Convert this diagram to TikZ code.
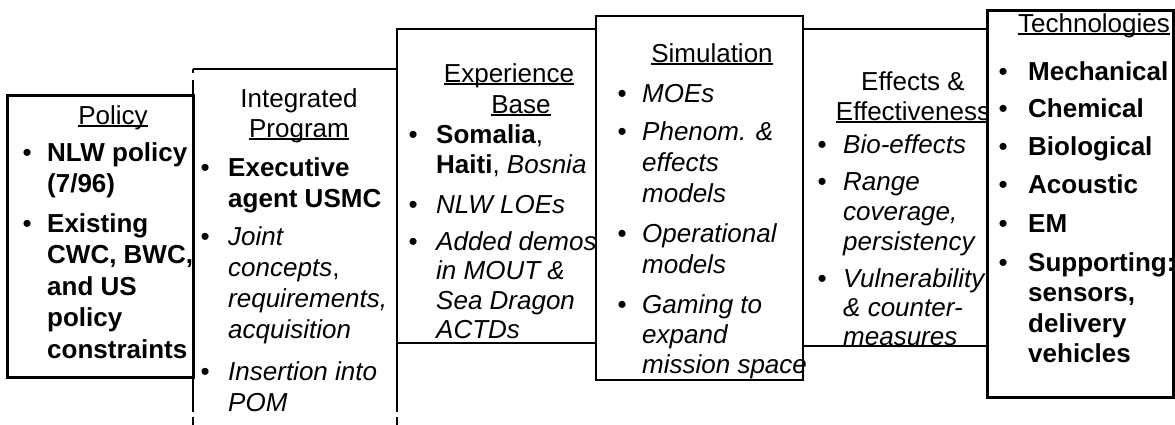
\documentclass[tikz,border=0pt]{standalone}
\usepackage{fontspec}
\setmainfont{Liberation Sans}
\newcommand{\bl}[1]{\makebox[#1pt][l]{\makebox[0pt]{\upshape\mdseries\textbullet}}}
\newcommand{\hul}[1]{\setbox0\hbox{#1}\rlap{\rule[-2.5pt]{\wd0}{1.3pt}}\box0}
\begin{document}
\begin{tikzpicture}[x=1pt,y=-1pt,
  frame/.style={draw=black, fill=white, inner sep=0pt, outer sep=0pt, anchor=north west},
  heavy/.style={frame, line width=3pt},
  light/.style={frame, line width=1.5pt},
  medium/.style={frame, line width=2pt},
  head/.style={inner sep=0pt, anchor=base, font=\fontsize{26}{30}\selectfont},
  itemtxt/.style={inner sep=0pt, anchor=base west, font=\fontsize{26}{#1}\selectfont},
  ]
\fill[white] (0,0) rectangle (1175,424);
\useasboundingbox (0,0) rectangle (1175,424);

% Integrated Program
\node[fill=white, inner sep=0pt, outer sep=0pt, anchor=north west, minimum width=204pt, minimum height=356pt] (integ) at (193,69) {};
\draw[line width=1.5pt] (integ.north west) -- (integ.north east);
\draw[line width=1.5pt, dash pattern=on 4pt off 7pt on 332pt off 5pt on 30pt] (integ.north west) -- (integ.south west);
\draw[line width=1.5pt, dash pattern=on 4pt off 7pt on 332pt off 5pt on 30pt] (integ.north east) -- (integ.south east);
\node[head] (integh1) at (299,107) {Integrated};
\node[head] (integh2) at (299,137) {\hul{Program}};
\node[itemtxt=31] (integi1) at (205,176) {\bfseries\begin{tabular}[t]{@{}l@{}l@{}}\bl{23}&Executive\\&agent USMC\end{tabular}};
\node[itemtxt=31] (integi2) at (205,245) {\itshape\begin{tabular}[t]{@{}l@{}l@{}}\bl{23}&Joint\\&concepts{\upshape,}\\&requirements,\\&acquisition\end{tabular}};
\node[itemtxt=31] (integi3) at (205,380) {\itshape\begin{tabular}[t]{@{}l@{}l@{}}\bl{23}&Insertion into\\&POM\end{tabular}};

% Policy
\node[heavy, minimum width=186pt, minimum height=282pt] (policy) at (7,95) {};
\node[head] (policyh) at (113,124) {\hul{Policy}};
\node[itemtxt=31.5] (policyi1) at (27,161) {\bfseries\begin{tabular}[t]{@{}l@{}l@{}}\bl{20}&NLW policy\\&(7/96)\end{tabular}};
\node[itemtxt=31.5] (policyi2) at (27,232) {\bfseries\begin{tabular}[t]{@{}l@{}l@{}}\bl{20}&Existing\\&CWC, BWC,\\&and US\\&policy\\&constraints\end{tabular}};

% Experience Base
\node[light, minimum width=199pt, minimum height=314pt] (exper) at (397,29) {};
\node[head] (experh1) at (509,82) {\hul{Experience}};
\node[head] (experh2) at (521,113) {\hul{Base}};
\node[itemtxt=30] (experi1) at (413,143) {\begin{tabular}[t]{@{}l@{}l@{}}\bl{23}&\textbf{Somalia},\\&\textbf{Haiti}, \textit{Bosnia}\end{tabular}};
\node[itemtxt=30] (experi2) at (413,213) {\itshape\begin{tabular}[t]{@{}l@{}l@{}}\bl{23}&NLW LOEs\end{tabular}};
\node[itemtxt=29.5] (experi3) at (413,250) {\itshape\begin{tabular}[t]{@{}l@{}l@{}}\bl{23}&Added demos\\&in MOUT \&\\&Sea Dragon\\&ACTDs\end{tabular}};

% Effects & Effectiveness
\node[light, minimum width=184pt, minimum height=317pt] (effect) at (803,29) {};
\node[head] (effecth1) at (913,90) {Effects \&};
\node[head] (effecth2) at (913,120) {\hul{Effectiveness}};
\node[itemtxt=30] (effecti1) at (822,153) {\itshape\begin{tabular}[t]{@{}l@{}l@{}}\bl{21}&Bio-effects\end{tabular}};
\node[itemtxt=30] (effecti2) at (822,190) {\itshape\begin{tabular}[t]{@{}l@{}l@{}}\bl{21}&Range\\&coverage,\\&persistency\end{tabular}};
\node[itemtxt=29] (effecti3) at (822,287) {\itshape\begin{tabular}[t]{@{}l@{}l@{}}\bl{21}&Vulnerability\\&\& counter-\\&measures\end{tabular}};

% Simulation
\node[medium, minimum width=207pt, minimum height=364pt] (simul) at (596,16) {};
\node[head] (simulh) at (712,62) {\hul{Simulation}};
\node[itemtxt=31] (simuli1) at (622,102) {\itshape\begin{tabular}[t]{@{}l@{}l@{}}\bl{20}&MOEs\end{tabular}};
\node[itemtxt=31] (simuli2) at (622,140) {\itshape\begin{tabular}[t]{@{}l@{}l@{}}\bl{20}&Phenom. \&\\&effects\\&models\end{tabular}};
\node[itemtxt=31] (simuli3) at (622,242) {\itshape\begin{tabular}[t]{@{}l@{}l@{}}\bl{20}&Operational\\&models\end{tabular}};
\node[itemtxt=30] (simuli4) at (622,313) {\itshape\begin{tabular}[t]{@{}l@{}l@{}}\bl{20}&Gaming to\\&expand\\&mission space\end{tabular}};

% Technologies
\node[heavy, minimum width=186pt, minimum height=387pt] (techn) at (987,10) {};
\node[head] (technh) at (1094,32) {\hul{Technologies}};
\node[itemtxt=30] (techni1) at (1003,80) {\bfseries\begin{tabular}[t]{@{}l@{}l@{}}\bl{25}&Mechanical\end{tabular}};
\node[itemtxt=30] (techni2) at (1003,117) {\bfseries\begin{tabular}[t]{@{}l@{}l@{}}\bl{25}&Chemical\end{tabular}};
\node[itemtxt=30] (techni3) at (1003,155) {\bfseries\begin{tabular}[t]{@{}l@{}l@{}}\bl{25}&Biological\end{tabular}};
\node[itemtxt=30] (techni4) at (1003,193) {\bfseries\begin{tabular}[t]{@{}l@{}l@{}}\bl{25}&Acoustic\end{tabular}};
\node[itemtxt=30] (techni5) at (1003,232) {\bfseries\begin{tabular}[t]{@{}l@{}l@{}}\bl{25}&EM\end{tabular}};
\node[itemtxt=30.5] (techni6) at (1003,271) {\bfseries\begin{tabular}[t]{@{}l@{}l@{}}\bl{25}&Supporting:\\&sensors,\\&delivery\\&vehicles\end{tabular}};
\end{tikzpicture}
\end{document}
